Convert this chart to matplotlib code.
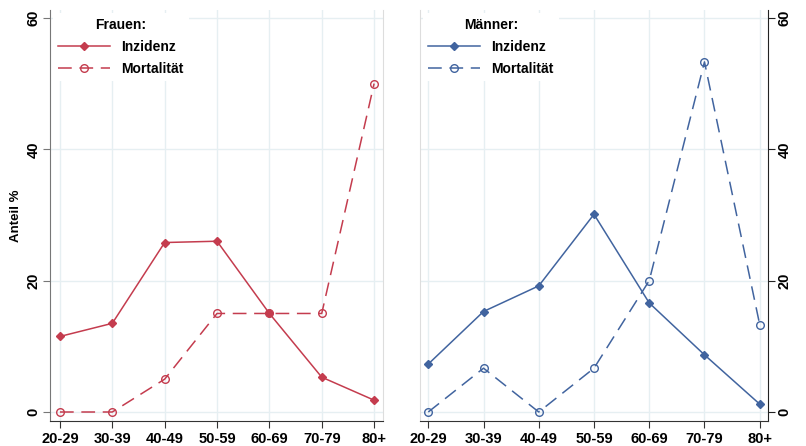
import numpy as np
import matplotlib.pyplot as plt

plt.rcParams['font.family'] = ['Liberation Sans', 'DejaVu Sans']

# Daten
groups = ['20-29', '30-39', '40-49', '50-59', '60-69', '70-79', '80+']
frauen_inz = [11.5, 13.5, 25.8, 26.0, 15.0, 5.3, 1.8]
frauen_mort = [0, 0, 5, 15, 15, 15, 50]
maenner_inz = [7.3, 15.3, 19.2, 30.1, 16.6, 8.7, 1.2]
maenner_mort = [0, 6.67, 0, 6.67, 20, 53.3, 13.3]
yticks = [0, 20, 40, 60]

red = '#c43c4e'
blue = '#41649f'
grid_c = '#e6eff2'

fig = plt.figure(figsize=(8.06, 4.46), dpi=100)
ax1 = fig.add_axes([50 / 806, 25 / 446, 333 / 806, 411 / 446])
ax2 = fig.add_axes([420 / 806, 25 / 446, 348 / 806, 411 / 446])

x = np.arange(len(groups))


def style(ax, inz, mort, color, title, left_side):
    ax.plot(x, inz, '-', color=color, lw=1.1, marker='D', ms=4.3,
            mfc=color, mec=color, label='Inzidenz', zorder=3)
    ax.plot(x, mort, '--', color=color, lw=1.1, marker='o', ms=5.5,
            mfc='none', mec=color, dashes=(9, 5), label='Mortalität', zorder=3)
    ax.set_xticks(x)
    ax.set_xticklabels(groups, fontsize=10.5, fontweight='bold')
    ax.set_yticks(yticks)
    ax.set_yticklabels([str(v) for v in yticks], fontsize=10.5,
                       fontweight='bold', rotation=90, va='center')
    ax.grid(True, color=grid_c, lw=1)
    ax.set_axisbelow(True)
    ax.spines['top'].set_visible(False)
    ax.spines['bottom'].set_color('#333333')
    ax.tick_params(axis='x', length=5, color='#333333', pad=3)
    if left_side:
        ax.set_xlim(-0.19, 6.17)
        ax.spines['left'].set_color('#777777')
        ax.spines['right'].set_color('#dddddd')
        ax.tick_params(axis='y', length=5, color='#777777', pad=2)
    else:
        ax.set_xlim(-0.15, 6.15)
        ax.yaxis.tick_right()
        ax.spines['left'].set_color('#dddddd')
        ax.spines['right'].set_color('#222222')
        ax.tick_params(axis='y', length=5, color='#222222', pad=2)
    ax.set_ylim(-1.37, 61.2)
    leg = ax.legend(loc='upper left', title=title, frameon=True,
                    facecolor='white', edgecolor='none', framealpha=1,
                    handlelength=3.7, borderaxespad=0.2,
                    borderpad=0.4, labelspacing=0.55, handletextpad=0.8,
                    prop={'weight': 'bold', 'size': 10})
    leg.get_title().set_fontweight('bold')
    leg.get_title().set_fontsize(10)
    leg.get_frame().set_boxstyle('square', pad=0)


style(ax1, frauen_inz, frauen_mort, red, 'Frauen:', True)
style(ax2, maenner_inz, maenner_mort, blue, 'Männer:', False)
ax1.set_ylabel('Anteil %', fontsize=9.5, fontweight='bold', labelpad=3)

fig.savefig('out.png', dpi=100)
